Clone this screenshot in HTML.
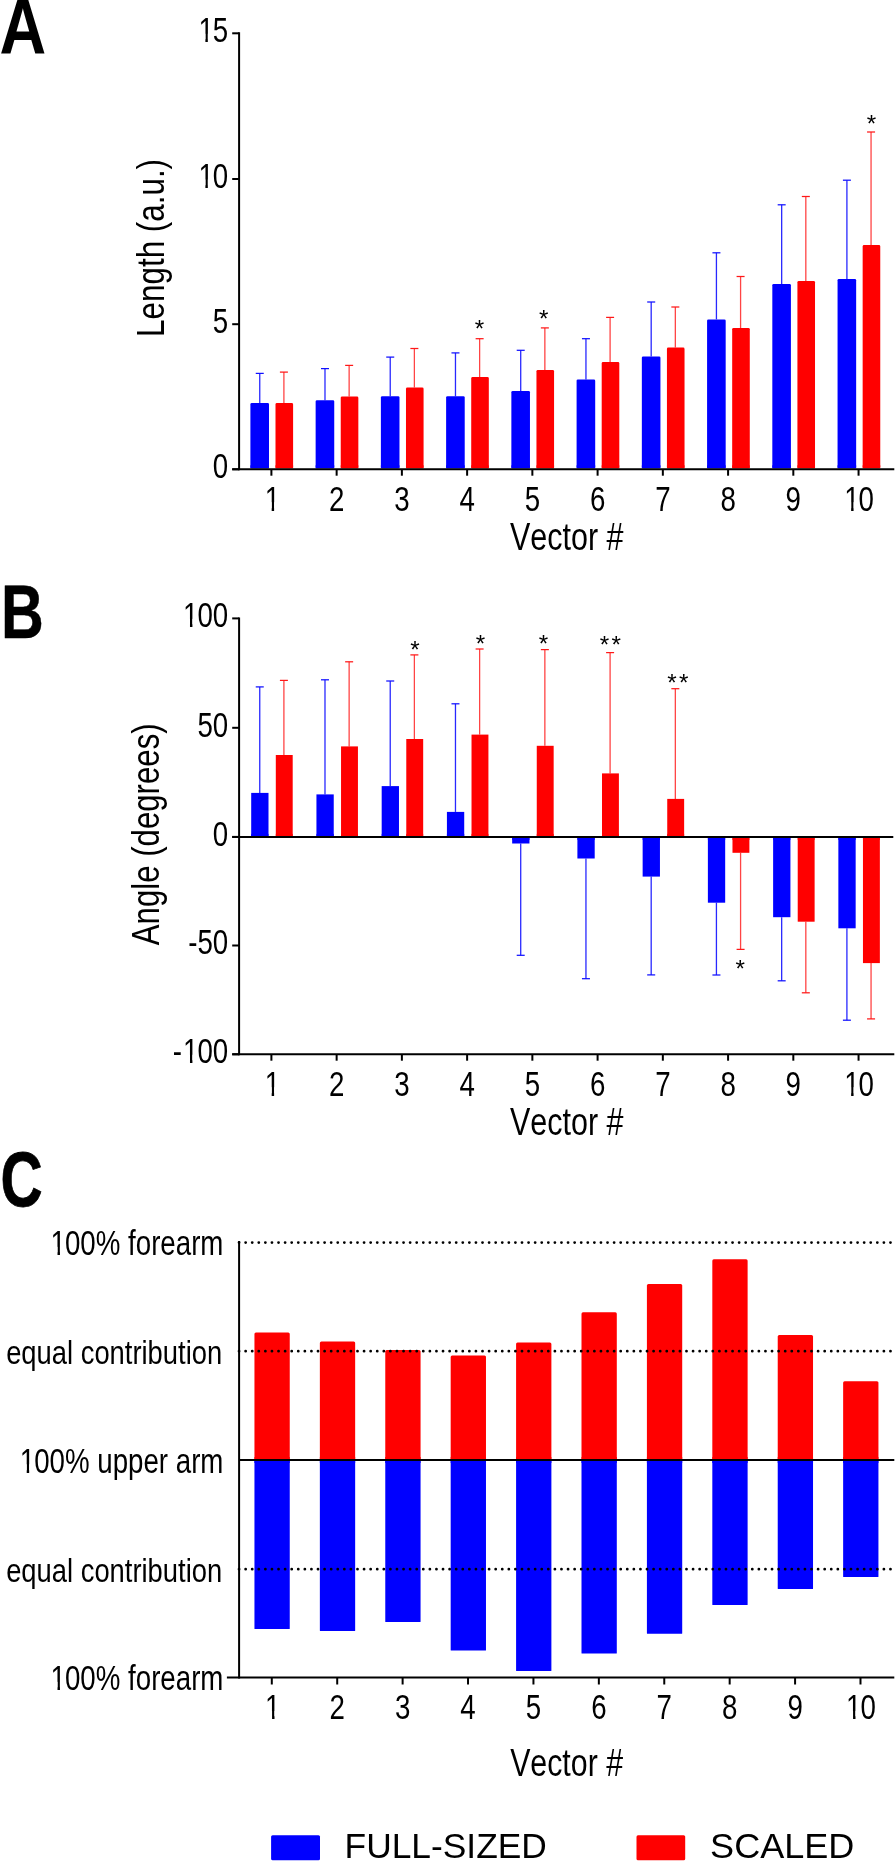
<!DOCTYPE html>
<html><head><meta charset="utf-8"><title>Figure</title>
<style>html,body{margin:0;padding:0;background:#fff;}body{width:895px;height:1861px;overflow:hidden;font-family:"Liberation Sans",sans-serif;}svg{display:block;}</style></head>
<body>
<svg width="895" height="1861" viewBox="0 0 895 1861" font-family="'Liberation Sans', sans-serif" fill="#000" style="will-change:transform;font-kerning:none">
<rect width="895" height="1861" fill="#fff"/>
<line x1="259.75" y1="403.10" x2="259.75" y2="373.40" stroke="#2828ff" stroke-width="1.3"/>
<line x1="255.75" y1="373.40" x2="263.75" y2="373.40" stroke="#1010ff" stroke-width="1.25"/>
<line x1="283.90" y1="403.10" x2="283.90" y2="372.10" stroke="#ff4444" stroke-width="1.3"/>
<line x1="279.90" y1="372.10" x2="287.90" y2="372.10" stroke="#ff1818" stroke-width="1.25"/>
<rect x="250.40" y="403.10" width="18.60" height="65.20" fill="#0000ff" rx="1.3" ry="1.3"/>
<rect x="250.40" y="465.30" width="18.60" height="3.00" fill="#0000ff" rx="0" ry="0"/>
<rect x="275.50" y="403.10" width="17.60" height="65.20" fill="#ff0000" rx="1.3" ry="1.3"/>
<rect x="275.50" y="465.30" width="17.60" height="3.00" fill="#ff0000" rx="0" ry="0"/>
<line x1="324.99" y1="400.30" x2="324.99" y2="368.60" stroke="#2828ff" stroke-width="1.3"/>
<line x1="320.99" y1="368.60" x2="328.99" y2="368.60" stroke="#1010ff" stroke-width="1.25"/>
<line x1="349.14" y1="396.50" x2="349.14" y2="365.40" stroke="#ff4444" stroke-width="1.3"/>
<line x1="345.14" y1="365.40" x2="353.14" y2="365.40" stroke="#ff1818" stroke-width="1.25"/>
<rect x="315.64" y="400.30" width="18.60" height="68.00" fill="#0000ff" rx="1.3" ry="1.3"/>
<rect x="315.64" y="465.30" width="18.60" height="3.00" fill="#0000ff" rx="0" ry="0"/>
<rect x="340.74" y="396.50" width="17.60" height="71.80" fill="#ff0000" rx="1.3" ry="1.3"/>
<rect x="340.74" y="465.30" width="17.60" height="3.00" fill="#ff0000" rx="0" ry="0"/>
<line x1="390.23" y1="396.30" x2="390.23" y2="357.10" stroke="#2828ff" stroke-width="1.3"/>
<line x1="386.23" y1="357.10" x2="394.23" y2="357.10" stroke="#1010ff" stroke-width="1.25"/>
<line x1="414.38" y1="387.50" x2="414.38" y2="348.50" stroke="#ff4444" stroke-width="1.3"/>
<line x1="410.38" y1="348.50" x2="418.38" y2="348.50" stroke="#ff1818" stroke-width="1.25"/>
<rect x="380.88" y="396.30" width="18.60" height="72.00" fill="#0000ff" rx="1.3" ry="1.3"/>
<rect x="380.88" y="465.30" width="18.60" height="3.00" fill="#0000ff" rx="0" ry="0"/>
<rect x="405.98" y="387.50" width="17.60" height="80.80" fill="#ff0000" rx="1.3" ry="1.3"/>
<rect x="405.98" y="465.30" width="17.60" height="3.00" fill="#ff0000" rx="0" ry="0"/>
<line x1="455.47" y1="396.30" x2="455.47" y2="352.90" stroke="#2828ff" stroke-width="1.3"/>
<line x1="451.47" y1="352.90" x2="459.47" y2="352.90" stroke="#1010ff" stroke-width="1.25"/>
<line x1="479.62" y1="377.10" x2="479.62" y2="338.70" stroke="#ff4444" stroke-width="1.3"/>
<line x1="475.62" y1="338.70" x2="483.62" y2="338.70" stroke="#ff1818" stroke-width="1.25"/>
<rect x="446.12" y="396.30" width="18.60" height="72.00" fill="#0000ff" rx="1.3" ry="1.3"/>
<rect x="446.12" y="465.30" width="18.60" height="3.00" fill="#0000ff" rx="0" ry="0"/>
<rect x="471.22" y="377.10" width="17.60" height="91.20" fill="#ff0000" rx="1.3" ry="1.3"/>
<rect x="471.22" y="465.30" width="17.60" height="3.00" fill="#ff0000" rx="0" ry="0"/>
<line x1="520.71" y1="391.00" x2="520.71" y2="350.30" stroke="#2828ff" stroke-width="1.3"/>
<line x1="516.71" y1="350.30" x2="524.71" y2="350.30" stroke="#1010ff" stroke-width="1.25"/>
<line x1="544.86" y1="369.90" x2="544.86" y2="327.90" stroke="#ff4444" stroke-width="1.3"/>
<line x1="540.86" y1="327.90" x2="548.86" y2="327.90" stroke="#ff1818" stroke-width="1.25"/>
<rect x="511.36" y="391.00" width="18.60" height="77.30" fill="#0000ff" rx="1.3" ry="1.3"/>
<rect x="511.36" y="465.30" width="18.60" height="3.00" fill="#0000ff" rx="0" ry="0"/>
<rect x="536.46" y="369.90" width="17.60" height="98.40" fill="#ff0000" rx="1.3" ry="1.3"/>
<rect x="536.46" y="465.30" width="17.60" height="3.00" fill="#ff0000" rx="0" ry="0"/>
<line x1="585.95" y1="379.50" x2="585.95" y2="338.70" stroke="#2828ff" stroke-width="1.3"/>
<line x1="581.95" y1="338.70" x2="589.95" y2="338.70" stroke="#1010ff" stroke-width="1.25"/>
<line x1="610.10" y1="362.10" x2="610.10" y2="317.40" stroke="#ff4444" stroke-width="1.3"/>
<line x1="606.10" y1="317.40" x2="614.10" y2="317.40" stroke="#ff1818" stroke-width="1.25"/>
<rect x="576.60" y="379.50" width="18.60" height="88.80" fill="#0000ff" rx="1.3" ry="1.3"/>
<rect x="576.60" y="465.30" width="18.60" height="3.00" fill="#0000ff" rx="0" ry="0"/>
<rect x="601.70" y="362.10" width="17.60" height="106.20" fill="#ff0000" rx="1.3" ry="1.3"/>
<rect x="601.70" y="465.30" width="17.60" height="3.00" fill="#ff0000" rx="0" ry="0"/>
<line x1="651.19" y1="356.50" x2="651.19" y2="302.00" stroke="#2828ff" stroke-width="1.3"/>
<line x1="647.19" y1="302.00" x2="655.19" y2="302.00" stroke="#1010ff" stroke-width="1.25"/>
<line x1="675.34" y1="347.60" x2="675.34" y2="307.00" stroke="#ff4444" stroke-width="1.3"/>
<line x1="671.34" y1="307.00" x2="679.34" y2="307.00" stroke="#ff1818" stroke-width="1.25"/>
<rect x="641.84" y="356.50" width="18.60" height="111.80" fill="#0000ff" rx="1.3" ry="1.3"/>
<rect x="641.84" y="465.30" width="18.60" height="3.00" fill="#0000ff" rx="0" ry="0"/>
<rect x="666.94" y="347.60" width="17.60" height="120.70" fill="#ff0000" rx="1.3" ry="1.3"/>
<rect x="666.94" y="465.30" width="17.60" height="3.00" fill="#ff0000" rx="0" ry="0"/>
<line x1="716.43" y1="319.40" x2="716.43" y2="252.80" stroke="#2828ff" stroke-width="1.3"/>
<line x1="712.43" y1="252.80" x2="720.43" y2="252.80" stroke="#1010ff" stroke-width="1.25"/>
<line x1="740.58" y1="328.00" x2="740.58" y2="276.50" stroke="#ff4444" stroke-width="1.3"/>
<line x1="736.58" y1="276.50" x2="744.58" y2="276.50" stroke="#ff1818" stroke-width="1.25"/>
<rect x="707.08" y="319.40" width="18.60" height="148.90" fill="#0000ff" rx="1.3" ry="1.3"/>
<rect x="707.08" y="465.30" width="18.60" height="3.00" fill="#0000ff" rx="0" ry="0"/>
<rect x="732.18" y="328.00" width="17.60" height="140.30" fill="#ff0000" rx="1.3" ry="1.3"/>
<rect x="732.18" y="465.30" width="17.60" height="3.00" fill="#ff0000" rx="0" ry="0"/>
<line x1="781.67" y1="283.90" x2="781.67" y2="204.80" stroke="#2828ff" stroke-width="1.3"/>
<line x1="777.67" y1="204.80" x2="785.67" y2="204.80" stroke="#1010ff" stroke-width="1.25"/>
<line x1="805.82" y1="280.90" x2="805.82" y2="196.50" stroke="#ff4444" stroke-width="1.3"/>
<line x1="801.82" y1="196.50" x2="809.82" y2="196.50" stroke="#ff1818" stroke-width="1.25"/>
<rect x="772.32" y="283.90" width="18.60" height="184.40" fill="#0000ff" rx="1.3" ry="1.3"/>
<rect x="772.32" y="465.30" width="18.60" height="3.00" fill="#0000ff" rx="0" ry="0"/>
<rect x="797.42" y="280.90" width="17.60" height="187.40" fill="#ff0000" rx="1.3" ry="1.3"/>
<rect x="797.42" y="465.30" width="17.60" height="3.00" fill="#ff0000" rx="0" ry="0"/>
<line x1="846.91" y1="278.90" x2="846.91" y2="180.20" stroke="#2828ff" stroke-width="1.3"/>
<line x1="842.91" y1="180.20" x2="850.91" y2="180.20" stroke="#1010ff" stroke-width="1.25"/>
<line x1="871.06" y1="245.10" x2="871.06" y2="132.00" stroke="#ff4444" stroke-width="1.3"/>
<line x1="867.06" y1="132.00" x2="875.06" y2="132.00" stroke="#ff1818" stroke-width="1.25"/>
<rect x="837.56" y="278.90" width="18.60" height="189.40" fill="#0000ff" rx="1.3" ry="1.3"/>
<rect x="837.56" y="465.30" width="18.60" height="3.00" fill="#0000ff" rx="0" ry="0"/>
<rect x="862.66" y="245.10" width="17.60" height="223.20" fill="#ff0000" rx="1.3" ry="1.3"/>
<rect x="862.66" y="465.30" width="17.60" height="3.00" fill="#ff0000" rx="0" ry="0"/>
<line x1="239.10" y1="32.30" x2="239.10" y2="470.30" stroke="#000" stroke-width="2"/>
<line x1="232.20" y1="469.30" x2="894.30" y2="469.30" stroke="#000" stroke-width="2"/>
<line x1="232.20" y1="33.30" x2="239.10" y2="33.30" stroke="#000" stroke-width="2"/>
<text transform="translate(197.41,42.20) scale(0.8,1)" font-size="34.6"><tspan dx="1.25">1</tspan><tspan dx="-1.25">5</tspan></text>
<rect x="198.28" y="33.75" width="7.10" height="9.46" fill="#fff"/>
<rect x="207.82" y="33.75" width="5.62" height="9.46" fill="#fff"/>
<line x1="232.20" y1="179.00" x2="239.10" y2="179.00" stroke="#000" stroke-width="2"/>
<text transform="translate(197.41,187.90) scale(0.8,1)" font-size="34.6"><tspan dx="1.25">1</tspan><tspan dx="-1.25">0</tspan></text>
<rect x="198.28" y="179.45" width="7.10" height="9.46" fill="#fff"/>
<rect x="207.82" y="179.45" width="5.62" height="9.46" fill="#fff"/>
<line x1="232.20" y1="324.20" x2="239.10" y2="324.20" stroke="#000" stroke-width="2"/>
<text transform="translate(212.81,333.10) scale(0.8,1)" font-size="34.6">5</text>
<line x1="232.20" y1="469.30" x2="239.10" y2="469.30" stroke="#000" stroke-width="2"/>
<text transform="translate(212.81,478.20) scale(0.8,1)" font-size="34.6">0</text>
<line x1="271.40" y1="469.30" x2="271.40" y2="475.70" stroke="#000" stroke-width="2"/>
<text transform="translate(263.70,510.60) scale(0.8,1)" font-size="34.6"><tspan dx="1.25">1</tspan></text>
<rect x="264.57" y="502.15" width="7.10" height="9.46" fill="#fff"/>
<rect x="274.11" y="502.15" width="5.62" height="9.46" fill="#fff"/>
<line x1="336.64" y1="469.30" x2="336.64" y2="475.70" stroke="#000" stroke-width="2"/>
<text transform="translate(328.94,510.60) scale(0.8,1)" font-size="34.6">2</text>
<line x1="401.88" y1="469.30" x2="401.88" y2="475.70" stroke="#000" stroke-width="2"/>
<text transform="translate(394.18,510.60) scale(0.8,1)" font-size="34.6">3</text>
<line x1="467.12" y1="469.30" x2="467.12" y2="475.70" stroke="#000" stroke-width="2"/>
<text transform="translate(459.42,510.60) scale(0.8,1)" font-size="34.6">4</text>
<line x1="532.36" y1="469.30" x2="532.36" y2="475.70" stroke="#000" stroke-width="2"/>
<text transform="translate(524.66,510.60) scale(0.8,1)" font-size="34.6">5</text>
<line x1="597.60" y1="469.30" x2="597.60" y2="475.70" stroke="#000" stroke-width="2"/>
<text transform="translate(589.90,510.60) scale(0.8,1)" font-size="34.6">6</text>
<line x1="662.84" y1="469.30" x2="662.84" y2="475.70" stroke="#000" stroke-width="2"/>
<text transform="translate(655.14,510.60) scale(0.8,1)" font-size="34.6">7</text>
<line x1="728.08" y1="469.30" x2="728.08" y2="475.70" stroke="#000" stroke-width="2"/>
<text transform="translate(720.38,510.60) scale(0.8,1)" font-size="34.6">8</text>
<line x1="793.32" y1="469.30" x2="793.32" y2="475.70" stroke="#000" stroke-width="2"/>
<text transform="translate(785.62,510.60) scale(0.8,1)" font-size="34.6">9</text>
<line x1="858.56" y1="469.30" x2="858.56" y2="475.70" stroke="#000" stroke-width="2"/>
<text transform="translate(843.17,510.60) scale(0.8,1)" font-size="34.6"><tspan dx="1.25">1</tspan><tspan dx="-1.25">0</tspan></text>
<rect x="844.03" y="502.15" width="7.10" height="9.46" fill="#fff"/>
<rect x="853.57" y="502.15" width="5.62" height="9.46" fill="#fff"/>
<text transform="translate(510.05,549.70) scale(0.802,1)" font-size="38.0">Vector #</text>
<text transform="translate(163.70,247.90) rotate(-90) scale(0.826,1)" font-size="38.0" text-anchor="middle">Length (a.u.)</text>
<text transform="translate(474.87,337.21) scale(0.98,1)" font-size="24.8">*</text>
<text transform="translate(539.07,327.11) scale(0.98,1)" font-size="24.8">*</text>
<text transform="translate(866.67,131.51) scale(0.98,1)" font-size="24.8">*</text>
<line x1="259.75" y1="792.90" x2="259.75" y2="686.90" stroke="#2828ff" stroke-width="1.3"/>
<line x1="255.75" y1="686.90" x2="263.75" y2="686.90" stroke="#1010ff" stroke-width="1.25"/>
<line x1="283.90" y1="755.00" x2="283.90" y2="680.40" stroke="#ff4444" stroke-width="1.3"/>
<line x1="279.90" y1="680.40" x2="287.90" y2="680.40" stroke="#ff1818" stroke-width="1.25"/>
<rect x="251.20" y="792.90" width="17.30" height="44.00" fill="#0000ff" rx="0" ry="0"/>
<rect x="251.20" y="833.90" width="17.30" height="3.00" fill="#0000ff" rx="0" ry="0"/>
<rect x="275.80" y="755.00" width="16.90" height="81.90" fill="#ff0000" rx="0" ry="0"/>
<rect x="275.80" y="833.90" width="16.90" height="3.00" fill="#ff0000" rx="0" ry="0"/>
<line x1="324.99" y1="794.40" x2="324.99" y2="679.80" stroke="#2828ff" stroke-width="1.3"/>
<line x1="320.99" y1="679.80" x2="328.99" y2="679.80" stroke="#1010ff" stroke-width="1.25"/>
<line x1="349.14" y1="746.40" x2="349.14" y2="661.80" stroke="#ff4444" stroke-width="1.3"/>
<line x1="345.14" y1="661.80" x2="353.14" y2="661.80" stroke="#ff1818" stroke-width="1.25"/>
<rect x="316.44" y="794.40" width="17.30" height="42.50" fill="#0000ff" rx="0" ry="0"/>
<rect x="316.44" y="833.90" width="17.30" height="3.00" fill="#0000ff" rx="0" ry="0"/>
<rect x="341.04" y="746.40" width="16.90" height="90.50" fill="#ff0000" rx="0" ry="0"/>
<rect x="341.04" y="833.90" width="16.90" height="3.00" fill="#ff0000" rx="0" ry="0"/>
<line x1="390.23" y1="786.10" x2="390.23" y2="681.00" stroke="#2828ff" stroke-width="1.3"/>
<line x1="386.23" y1="681.00" x2="394.23" y2="681.00" stroke="#1010ff" stroke-width="1.25"/>
<line x1="414.38" y1="739.00" x2="414.38" y2="654.90" stroke="#ff4444" stroke-width="1.3"/>
<line x1="410.38" y1="654.90" x2="418.38" y2="654.90" stroke="#ff1818" stroke-width="1.25"/>
<rect x="381.68" y="786.10" width="17.30" height="50.80" fill="#0000ff" rx="0" ry="0"/>
<rect x="381.68" y="833.90" width="17.30" height="3.00" fill="#0000ff" rx="0" ry="0"/>
<rect x="406.28" y="739.00" width="16.90" height="97.90" fill="#ff0000" rx="0" ry="0"/>
<rect x="406.28" y="833.90" width="16.90" height="3.00" fill="#ff0000" rx="0" ry="0"/>
<line x1="455.47" y1="811.90" x2="455.47" y2="703.80" stroke="#2828ff" stroke-width="1.3"/>
<line x1="451.47" y1="703.80" x2="459.47" y2="703.80" stroke="#1010ff" stroke-width="1.25"/>
<line x1="479.62" y1="734.60" x2="479.62" y2="649.00" stroke="#ff4444" stroke-width="1.3"/>
<line x1="475.62" y1="649.00" x2="483.62" y2="649.00" stroke="#ff1818" stroke-width="1.25"/>
<rect x="446.92" y="811.90" width="17.30" height="25.00" fill="#0000ff" rx="0" ry="0"/>
<rect x="446.92" y="833.90" width="17.30" height="3.00" fill="#0000ff" rx="0" ry="0"/>
<rect x="471.52" y="734.60" width="16.90" height="102.30" fill="#ff0000" rx="0" ry="0"/>
<rect x="471.52" y="833.90" width="16.90" height="3.00" fill="#ff0000" rx="0" ry="0"/>
<line x1="520.71" y1="843.50" x2="520.71" y2="955.30" stroke="#2828ff" stroke-width="1.3"/>
<line x1="516.71" y1="955.30" x2="524.71" y2="955.30" stroke="#1010ff" stroke-width="1.25"/>
<line x1="544.86" y1="745.80" x2="544.86" y2="649.60" stroke="#ff4444" stroke-width="1.3"/>
<line x1="540.86" y1="649.60" x2="548.86" y2="649.60" stroke="#ff1818" stroke-width="1.25"/>
<rect x="512.16" y="836.90" width="17.30" height="6.60" fill="#0000ff" rx="0" ry="0"/>
<rect x="512.16" y="836.90" width="17.30" height="3.00" fill="#0000ff" rx="0" ry="0"/>
<rect x="536.76" y="745.80" width="16.90" height="91.10" fill="#ff0000" rx="0" ry="0"/>
<rect x="536.76" y="833.90" width="16.90" height="3.00" fill="#ff0000" rx="0" ry="0"/>
<line x1="585.95" y1="858.50" x2="585.95" y2="978.70" stroke="#2828ff" stroke-width="1.3"/>
<line x1="581.95" y1="978.70" x2="589.95" y2="978.70" stroke="#1010ff" stroke-width="1.25"/>
<line x1="610.10" y1="773.40" x2="610.10" y2="652.60" stroke="#ff4444" stroke-width="1.3"/>
<line x1="606.10" y1="652.60" x2="614.10" y2="652.60" stroke="#ff1818" stroke-width="1.25"/>
<rect x="577.40" y="836.90" width="17.30" height="21.60" fill="#0000ff" rx="0" ry="0"/>
<rect x="577.40" y="836.90" width="17.30" height="3.00" fill="#0000ff" rx="0" ry="0"/>
<rect x="602.00" y="773.40" width="16.90" height="63.50" fill="#ff0000" rx="0" ry="0"/>
<rect x="602.00" y="833.90" width="16.90" height="3.00" fill="#ff0000" rx="0" ry="0"/>
<line x1="651.19" y1="876.60" x2="651.19" y2="974.90" stroke="#2828ff" stroke-width="1.3"/>
<line x1="647.19" y1="974.90" x2="655.19" y2="974.90" stroke="#1010ff" stroke-width="1.25"/>
<line x1="675.34" y1="798.90" x2="675.34" y2="688.70" stroke="#ff4444" stroke-width="1.3"/>
<line x1="671.34" y1="688.70" x2="679.34" y2="688.70" stroke="#ff1818" stroke-width="1.25"/>
<rect x="642.64" y="836.90" width="17.30" height="39.70" fill="#0000ff" rx="0" ry="0"/>
<rect x="642.64" y="836.90" width="17.30" height="3.00" fill="#0000ff" rx="0" ry="0"/>
<rect x="667.24" y="798.90" width="16.90" height="38.00" fill="#ff0000" rx="0" ry="0"/>
<rect x="667.24" y="833.90" width="16.90" height="3.00" fill="#ff0000" rx="0" ry="0"/>
<line x1="716.43" y1="902.70" x2="716.43" y2="975.00" stroke="#2828ff" stroke-width="1.3"/>
<line x1="712.43" y1="975.00" x2="720.43" y2="975.00" stroke="#1010ff" stroke-width="1.25"/>
<line x1="740.58" y1="852.80" x2="740.58" y2="949.40" stroke="#ff4444" stroke-width="1.3"/>
<line x1="736.58" y1="949.40" x2="744.58" y2="949.40" stroke="#ff1818" stroke-width="1.25"/>
<rect x="707.88" y="836.90" width="17.30" height="65.80" fill="#0000ff" rx="0" ry="0"/>
<rect x="707.88" y="836.90" width="17.30" height="3.00" fill="#0000ff" rx="0" ry="0"/>
<rect x="732.48" y="836.90" width="16.90" height="15.90" fill="#ff0000" rx="0" ry="0"/>
<rect x="732.48" y="836.90" width="16.90" height="3.00" fill="#ff0000" rx="0" ry="0"/>
<line x1="781.67" y1="917.20" x2="781.67" y2="980.80" stroke="#2828ff" stroke-width="1.3"/>
<line x1="777.67" y1="980.80" x2="785.67" y2="980.80" stroke="#1010ff" stroke-width="1.25"/>
<line x1="805.82" y1="921.70" x2="805.82" y2="992.80" stroke="#ff4444" stroke-width="1.3"/>
<line x1="801.82" y1="992.80" x2="809.82" y2="992.80" stroke="#ff1818" stroke-width="1.25"/>
<rect x="773.12" y="836.90" width="17.30" height="80.30" fill="#0000ff" rx="0" ry="0"/>
<rect x="773.12" y="836.90" width="17.30" height="3.00" fill="#0000ff" rx="0" ry="0"/>
<rect x="797.72" y="836.90" width="16.90" height="84.80" fill="#ff0000" rx="0" ry="0"/>
<rect x="797.72" y="836.90" width="16.90" height="3.00" fill="#ff0000" rx="0" ry="0"/>
<line x1="846.91" y1="928.30" x2="846.91" y2="1020.20" stroke="#2828ff" stroke-width="1.3"/>
<line x1="842.91" y1="1020.20" x2="850.91" y2="1020.20" stroke="#1010ff" stroke-width="1.25"/>
<line x1="871.06" y1="963.10" x2="871.06" y2="1018.90" stroke="#ff4444" stroke-width="1.3"/>
<line x1="867.06" y1="1018.90" x2="875.06" y2="1018.90" stroke="#ff1818" stroke-width="1.25"/>
<rect x="838.36" y="836.90" width="17.30" height="91.40" fill="#0000ff" rx="0" ry="0"/>
<rect x="838.36" y="836.90" width="17.30" height="3.00" fill="#0000ff" rx="0" ry="0"/>
<rect x="862.96" y="836.90" width="16.90" height="126.20" fill="#ff0000" rx="0" ry="0"/>
<rect x="862.96" y="836.90" width="16.90" height="3.00" fill="#ff0000" rx="0" ry="0"/>
<line x1="239.10" y1="617.40" x2="239.10" y2="1055.30" stroke="#000" stroke-width="2"/>
<line x1="232.20" y1="1054.30" x2="894.30" y2="1054.30" stroke="#000" stroke-width="2"/>
<line x1="232.20" y1="836.90" x2="893.30" y2="836.90" stroke="#000" stroke-width="2"/>
<line x1="232.20" y1="618.40" x2="239.10" y2="618.40" stroke="#000" stroke-width="2"/>
<text transform="translate(182.02,627.30) scale(0.8,1)" font-size="34.6"><tspan dx="1.25">1</tspan><tspan dx="-1.25">0</tspan>0</text>
<rect x="182.88" y="618.85" width="7.10" height="9.46" fill="#fff"/>
<rect x="192.42" y="618.85" width="5.62" height="9.46" fill="#fff"/>
<line x1="232.20" y1="727.80" x2="239.10" y2="727.80" stroke="#000" stroke-width="2"/>
<text transform="translate(197.41,736.70) scale(0.8,1)" font-size="34.6">50</text>
<line x1="232.20" y1="836.90" x2="239.10" y2="836.90" stroke="#000" stroke-width="2"/>
<text transform="translate(212.81,845.80) scale(0.8,1)" font-size="34.6">0</text>
<line x1="232.20" y1="945.50" x2="239.10" y2="945.50" stroke="#000" stroke-width="2"/>
<text transform="translate(188.19,954.40) scale(0.8,1)" font-size="34.6">-50</text>
<line x1="232.20" y1="1054.30" x2="239.10" y2="1054.30" stroke="#000" stroke-width="2"/>
<text transform="translate(172.80,1063.20) scale(0.8,1)" font-size="34.6">-<tspan dx="1.25">1</tspan><tspan dx="-1.25">0</tspan>0</text>
<rect x="182.88" y="1054.75" width="7.10" height="9.46" fill="#fff"/>
<rect x="192.42" y="1054.75" width="5.62" height="9.46" fill="#fff"/>
<line x1="271.40" y1="1054.30" x2="271.40" y2="1060.70" stroke="#000" stroke-width="2"/>
<text transform="translate(263.70,1095.60) scale(0.8,1)" font-size="34.6"><tspan dx="1.25">1</tspan></text>
<rect x="264.57" y="1087.15" width="7.10" height="9.46" fill="#fff"/>
<rect x="274.11" y="1087.15" width="5.62" height="9.46" fill="#fff"/>
<line x1="336.64" y1="1054.30" x2="336.64" y2="1060.70" stroke="#000" stroke-width="2"/>
<text transform="translate(328.94,1095.60) scale(0.8,1)" font-size="34.6">2</text>
<line x1="401.88" y1="1054.30" x2="401.88" y2="1060.70" stroke="#000" stroke-width="2"/>
<text transform="translate(394.18,1095.60) scale(0.8,1)" font-size="34.6">3</text>
<line x1="467.12" y1="1054.30" x2="467.12" y2="1060.70" stroke="#000" stroke-width="2"/>
<text transform="translate(459.42,1095.60) scale(0.8,1)" font-size="34.6">4</text>
<line x1="532.36" y1="1054.30" x2="532.36" y2="1060.70" stroke="#000" stroke-width="2"/>
<text transform="translate(524.66,1095.60) scale(0.8,1)" font-size="34.6">5</text>
<line x1="597.60" y1="1054.30" x2="597.60" y2="1060.70" stroke="#000" stroke-width="2"/>
<text transform="translate(589.90,1095.60) scale(0.8,1)" font-size="34.6">6</text>
<line x1="662.84" y1="1054.30" x2="662.84" y2="1060.70" stroke="#000" stroke-width="2"/>
<text transform="translate(655.14,1095.60) scale(0.8,1)" font-size="34.6">7</text>
<line x1="728.08" y1="1054.30" x2="728.08" y2="1060.70" stroke="#000" stroke-width="2"/>
<text transform="translate(720.38,1095.60) scale(0.8,1)" font-size="34.6">8</text>
<line x1="793.32" y1="1054.30" x2="793.32" y2="1060.70" stroke="#000" stroke-width="2"/>
<text transform="translate(785.62,1095.60) scale(0.8,1)" font-size="34.6">9</text>
<line x1="858.56" y1="1054.30" x2="858.56" y2="1060.70" stroke="#000" stroke-width="2"/>
<text transform="translate(843.17,1095.60) scale(0.8,1)" font-size="34.6"><tspan dx="1.25">1</tspan><tspan dx="-1.25">0</tspan></text>
<rect x="844.03" y="1087.15" width="7.10" height="9.46" fill="#fff"/>
<rect x="853.57" y="1087.15" width="5.62" height="9.46" fill="#fff"/>
<text transform="translate(510.05,1134.70) scale(0.802,1)" font-size="38.0">Vector #</text>
<text transform="translate(159.00,834.30) rotate(-90) scale(0.8206,1)" font-size="38.0" text-anchor="middle">Angle (degrees)</text>
<text transform="translate(410.27,658.11) scale(0.98,1)" font-size="24.8">*</text>
<text transform="translate(475.87,651.51) scale(0.98,1)" font-size="24.8">*</text>
<text transform="translate(538.87,651.51) scale(0.98,1)" font-size="24.8">*</text>
<text transform="translate(599.67,653.46) scale(0.98,1)" font-size="24.8" letter-spacing="2.4">**</text>
<text transform="translate(667.22,690.61) scale(0.98,1)" font-size="24.8" letter-spacing="2.4">**</text>
<text transform="translate(735.42,977.11) scale(0.98,1)" font-size="24.8">*</text>
<rect x="254.45" y="1332.40" width="35.30" height="127.60" fill="#ff0000" rx="1.5" ry="1.5"/>
<rect x="254.45" y="1457.00" width="35.30" height="3.00" fill="#ff0000" rx="0" ry="0"/>
<rect x="254.45" y="1460.00" width="35.30" height="169.10" fill="#0000ff" rx="0.5" ry="0.5"/>
<rect x="254.45" y="1460.00" width="35.30" height="3.00" fill="#0000ff" rx="0" ry="0"/>
<rect x="319.86" y="1341.40" width="35.30" height="118.60" fill="#ff0000" rx="1.5" ry="1.5"/>
<rect x="319.86" y="1457.00" width="35.30" height="3.00" fill="#ff0000" rx="0" ry="0"/>
<rect x="319.86" y="1460.00" width="35.30" height="171.00" fill="#0000ff" rx="0.5" ry="0.5"/>
<rect x="319.86" y="1460.00" width="35.30" height="3.00" fill="#0000ff" rx="0" ry="0"/>
<rect x="385.27" y="1349.90" width="35.30" height="110.10" fill="#ff0000" rx="1.5" ry="1.5"/>
<rect x="385.27" y="1457.00" width="35.30" height="3.00" fill="#ff0000" rx="0" ry="0"/>
<rect x="385.27" y="1460.00" width="35.30" height="161.90" fill="#0000ff" rx="0.5" ry="0.5"/>
<rect x="385.27" y="1460.00" width="35.30" height="3.00" fill="#0000ff" rx="0" ry="0"/>
<rect x="450.68" y="1355.40" width="35.30" height="104.60" fill="#ff0000" rx="1.5" ry="1.5"/>
<rect x="450.68" y="1457.00" width="35.30" height="3.00" fill="#ff0000" rx="0" ry="0"/>
<rect x="450.68" y="1460.00" width="35.30" height="190.60" fill="#0000ff" rx="0.5" ry="0.5"/>
<rect x="450.68" y="1460.00" width="35.30" height="3.00" fill="#0000ff" rx="0" ry="0"/>
<rect x="516.09" y="1342.50" width="35.30" height="117.50" fill="#ff0000" rx="1.5" ry="1.5"/>
<rect x="516.09" y="1457.00" width="35.30" height="3.00" fill="#ff0000" rx="0" ry="0"/>
<rect x="516.09" y="1460.00" width="35.30" height="210.90" fill="#0000ff" rx="0.5" ry="0.5"/>
<rect x="516.09" y="1460.00" width="35.30" height="3.00" fill="#0000ff" rx="0" ry="0"/>
<rect x="581.50" y="1312.30" width="35.30" height="147.70" fill="#ff0000" rx="1.5" ry="1.5"/>
<rect x="581.50" y="1457.00" width="35.30" height="3.00" fill="#ff0000" rx="0" ry="0"/>
<rect x="581.50" y="1460.00" width="35.30" height="193.60" fill="#0000ff" rx="0.5" ry="0.5"/>
<rect x="581.50" y="1460.00" width="35.30" height="3.00" fill="#0000ff" rx="0" ry="0"/>
<rect x="646.91" y="1283.90" width="35.30" height="176.10" fill="#ff0000" rx="1.5" ry="1.5"/>
<rect x="646.91" y="1457.00" width="35.30" height="3.00" fill="#ff0000" rx="0" ry="0"/>
<rect x="646.91" y="1460.00" width="35.30" height="173.70" fill="#0000ff" rx="0.5" ry="0.5"/>
<rect x="646.91" y="1460.00" width="35.30" height="3.00" fill="#0000ff" rx="0" ry="0"/>
<rect x="712.32" y="1259.20" width="35.30" height="200.80" fill="#ff0000" rx="1.5" ry="1.5"/>
<rect x="712.32" y="1457.00" width="35.30" height="3.00" fill="#ff0000" rx="0" ry="0"/>
<rect x="712.32" y="1460.00" width="35.30" height="144.90" fill="#0000ff" rx="0.5" ry="0.5"/>
<rect x="712.32" y="1460.00" width="35.30" height="3.00" fill="#0000ff" rx="0" ry="0"/>
<rect x="777.73" y="1335.10" width="35.30" height="124.90" fill="#ff0000" rx="1.5" ry="1.5"/>
<rect x="777.73" y="1457.00" width="35.30" height="3.00" fill="#ff0000" rx="0" ry="0"/>
<rect x="777.73" y="1460.00" width="35.30" height="129.10" fill="#0000ff" rx="0.5" ry="0.5"/>
<rect x="777.73" y="1460.00" width="35.30" height="3.00" fill="#0000ff" rx="0" ry="0"/>
<rect x="843.14" y="1381.20" width="35.30" height="78.80" fill="#ff0000" rx="1.5" ry="1.5"/>
<rect x="843.14" y="1457.00" width="35.30" height="3.00" fill="#ff0000" rx="0" ry="0"/>
<rect x="843.14" y="1460.00" width="35.30" height="116.90" fill="#0000ff" rx="0.5" ry="0.5"/>
<rect x="843.14" y="1460.00" width="35.30" height="3.00" fill="#0000ff" rx="0" ry="0"/>
<line x1="239.05" y1="1242.6" x2="899" y2="1242.6" stroke="#000" stroke-width="2.8" stroke-linecap="round" stroke-dasharray="0.01 6.57"/>
<line x1="239.05" y1="1351.2" x2="899" y2="1351.2" stroke="#000" stroke-width="2.8" stroke-linecap="round" stroke-dasharray="0.01 6.57"/>
<line x1="239.05" y1="1569.2" x2="899" y2="1569.2" stroke="#000" stroke-width="2.8" stroke-linecap="round" stroke-dasharray="0.01 6.57"/>
<line x1="239.10" y1="1241.00" x2="239.10" y2="1678.60" stroke="#000" stroke-width="2"/>
<line x1="239.10" y1="1460.00" x2="894.30" y2="1460.00" stroke="#000" stroke-width="2"/>
<line x1="226.90" y1="1677.60" x2="894.30" y2="1677.60" stroke="#000" stroke-width="2"/>
<line x1="271.80" y1="1677.60" x2="271.80" y2="1684.50" stroke="#000" stroke-width="2"/>
<text transform="translate(264.10,1719.40) scale(0.8,1)" font-size="34.6"><tspan dx="1.25">1</tspan></text>
<rect x="264.97" y="1710.95" width="7.10" height="9.46" fill="#fff"/>
<rect x="274.51" y="1710.95" width="5.62" height="9.46" fill="#fff"/>
<line x1="337.21" y1="1677.60" x2="337.21" y2="1684.50" stroke="#000" stroke-width="2"/>
<text transform="translate(329.51,1719.40) scale(0.8,1)" font-size="34.6">2</text>
<line x1="402.62" y1="1677.60" x2="402.62" y2="1684.50" stroke="#000" stroke-width="2"/>
<text transform="translate(394.92,1719.40) scale(0.8,1)" font-size="34.6">3</text>
<line x1="468.03" y1="1677.60" x2="468.03" y2="1684.50" stroke="#000" stroke-width="2"/>
<text transform="translate(460.33,1719.40) scale(0.8,1)" font-size="34.6">4</text>
<line x1="533.44" y1="1677.60" x2="533.44" y2="1684.50" stroke="#000" stroke-width="2"/>
<text transform="translate(525.74,1719.40) scale(0.8,1)" font-size="34.6">5</text>
<line x1="598.85" y1="1677.60" x2="598.85" y2="1684.50" stroke="#000" stroke-width="2"/>
<text transform="translate(591.15,1719.40) scale(0.8,1)" font-size="34.6">6</text>
<line x1="664.26" y1="1677.60" x2="664.26" y2="1684.50" stroke="#000" stroke-width="2"/>
<text transform="translate(656.56,1719.40) scale(0.8,1)" font-size="34.6">7</text>
<line x1="729.67" y1="1677.60" x2="729.67" y2="1684.50" stroke="#000" stroke-width="2"/>
<text transform="translate(721.97,1719.40) scale(0.8,1)" font-size="34.6">8</text>
<line x1="795.08" y1="1677.60" x2="795.08" y2="1684.50" stroke="#000" stroke-width="2"/>
<text transform="translate(787.38,1719.40) scale(0.8,1)" font-size="34.6">9</text>
<line x1="860.49" y1="1677.60" x2="860.49" y2="1684.50" stroke="#000" stroke-width="2"/>
<text transform="translate(845.10,1719.40) scale(0.8,1)" font-size="34.6"><tspan dx="1.25">1</tspan><tspan dx="-1.25">0</tspan></text>
<rect x="845.96" y="1710.95" width="7.10" height="9.46" fill="#fff"/>
<rect x="855.50" y="1710.95" width="5.62" height="9.46" fill="#fff"/>
<text transform="translate(49.55,1255.30) scale(0.8,1)" font-size="34.6"><tspan dx="1.25">1</tspan><tspan dx="-1.25">0</tspan>0% forearm</text>
<rect x="50.41" y="1246.85" width="7.10" height="9.46" fill="#fff"/>
<rect x="59.96" y="1246.85" width="5.62" height="9.46" fill="#fff"/>
<text transform="translate(6.13,1364.00) scale(0.805,1)" font-size="34.0">equal contribution</text>
<text transform="translate(18.76,1472.70) scale(0.8,1)" font-size="34.6"><tspan dx="1.25">1</tspan><tspan dx="-1.25">0</tspan>0% upper arm</text>
<rect x="19.62" y="1464.25" width="7.10" height="9.46" fill="#fff"/>
<rect x="29.17" y="1464.25" width="5.62" height="9.46" fill="#fff"/>
<text transform="translate(6.13,1582.00) scale(0.805,1)" font-size="34.0">equal contribution</text>
<text transform="translate(49.55,1690.30) scale(0.8,1)" font-size="34.6"><tspan dx="1.25">1</tspan><tspan dx="-1.25">0</tspan>0% forearm</text>
<rect x="50.41" y="1681.85" width="7.10" height="9.46" fill="#fff"/>
<rect x="59.96" y="1681.85" width="5.62" height="9.46" fill="#fff"/>
<text transform="translate(510.13,1775.50) scale(0.798,1)" font-size="38.0">Vector #</text>
<text transform="translate(-0.60,54.20) scale(0.834,1)" font-size="77.5" font-weight="bold">A</text>
<text transform="translate(1.00,637.50) scale(0.776,1)" font-size="76.4" font-weight="bold" stroke="#000" stroke-width="0.5">B</text>
<text transform="translate(0.60,1205.60) scale(0.753,1)" font-size="77.5" font-weight="bold" stroke="#000" stroke-width="0.8">C</text>
<rect x="271.10" y="1835.20" width="48.90" height="25.00" fill="#0000ff" rx="1.5" ry="1.5"/>
<rect x="636.50" y="1835.20" width="48.70" height="25.00" fill="#ff0000" rx="1.5" ry="1.5"/>
<text transform="translate(344.60,1858.30) scale(0.982,1)" font-size="36.0">FULL-SIZED</text>
<text transform="translate(710.10,1858.30) scale(1.002,1)" font-size="36.0">SCALED</text>
</svg>
</body></html>
